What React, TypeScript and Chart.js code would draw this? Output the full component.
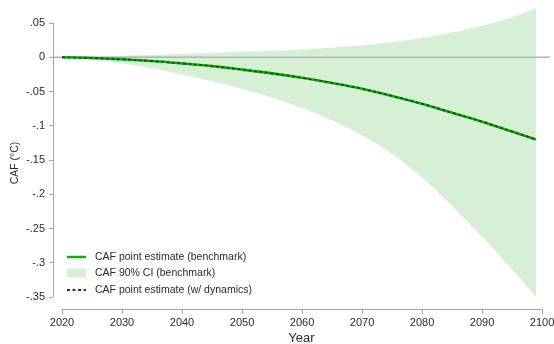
import React, { useEffect, useRef } from "react";
import { Chart, registerables } from "chart.js";

Chart.register(...registerables);

const YEARS = [2020, 2025, 2030, 2035, 2040, 2045, 2050, 2055, 2060, 2065, 2070, 2075, 2080, 2085, 2090, 2095, 2099];
const CAF_BENCHMARK = [0, -0.001, -0.003, -0.0055, -0.009, -0.013, -0.018, -0.0235, -0.03, -0.0375, -0.046, -0.0565, -0.068, -0.081, -0.094, -0.1085, -0.12];
const CAF_DYNAMICS = [0, -0.001, -0.003, -0.0055, -0.009, -0.013, -0.018, -0.0235, -0.03, -0.0375, -0.046, -0.0565, -0.068, -0.081, -0.094, -0.1085, -0.12];
const CI_LOWER = [0, -0.004, -0.009, -0.016, -0.025, -0.035, -0.046, -0.059, -0.074, -0.092, -0.114, -0.141, -0.176, -0.217, -0.262, -0.31, -0.35];
const CI_UPPER = [0, 0.001, 0.002, 0.0035, 0.005, 0.0065, 0.008, 0.0095, 0.0115, 0.014, 0.0175, 0.022, 0.028, 0.036, 0.046, 0.058, 0.072];
const X_TICKS = [2020, 2030, 2040, 2050, 2060, 2070, 2080, 2090, 2100];
const Y_TICKS = [0.05, 0, -0.05, -0.1, -0.15, -0.2, -0.25, -0.3, -0.35];
const LEGEND_LABELS = ["CAF point estimate (benchmark)", "CAF 90% CI (benchmark)", "CAF point estimate (w/ dynamics)"];
const X_TITLE = "Year";
const Y_TITLE = "CAF (\u00B0C)";

const FONT = "'Liberation Sans', Arial, Helvetica, sans-serif";
const GREEN = "#14a814";
const DARK_GREEN = "#045a04";
const BAND = "#d5f0d5";
const AXIS = "#a6a6a6";
const TEXT = "#2a2a2a";

const toPts = (ys: number[]) => YEARS.map((x, i) => ({ x, y: ys[i] }));

const fmtY = (v: number) => {
  const s = String(Number(v.toFixed(2)));
  return s.replace("0.", ".");
};

const stataPlugin = {
  id: "stata",
  beforeDatasetsDraw(chart: any) {
    const { ctx, chartArea, scales } = chart;
    const y0 = scales.y.getPixelForValue(0);
    ctx.save();
    ctx.strokeStyle = "#b4b4b4";
    ctx.lineWidth = 1.5;
    ctx.beginPath();
    ctx.moveTo(chartArea.left, y0);
    ctx.lineTo(chartArea.right, y0);
    ctx.stroke();
    ctx.restore();
  },
  afterDraw(chart: any) {
    const { ctx, chartArea, scales } = chart;
    ctx.save();
    ctx.strokeStyle = AXIS;
    ctx.lineWidth = 1;
    ctx.beginPath();
    const yt = scales.y.getPixelForValue(Y_TICKS[0]);
    const yb = scales.y.getPixelForValue(Y_TICKS[Y_TICKS.length - 1]);
    ctx.moveTo(chartArea.left + 0.5, yt);
    ctx.lineTo(chartArea.left + 0.5, yb);
    const xl = scales.x.getPixelForValue(X_TICKS[0]);
    const xr = scales.x.getPixelForValue(X_TICKS[X_TICKS.length - 1]);
    ctx.moveTo(xl, chartArea.bottom + 0.5);
    ctx.lineTo(xr, chartArea.bottom + 0.5);
    ctx.stroke();

    ctx.fillStyle = TEXT;
    ctx.font = `13px ${FONT}`;
    ctx.textAlign = "center";
    ctx.textBaseline = "alphabetic";
    ctx.fillText(X_TITLE, (chartArea.left + chartArea.right) / 2, 342);
    ctx.save();
    ctx.translate(18, 163);
    ctx.rotate(-Math.PI / 2);
    ctx.font = `10.5px ${FONT}`;
    ctx.fillText(Y_TITLE, 0, 0);
    ctx.restore();

    const x0 = 67, x1 = 86, tx = 95;
    const rows = [257, 273, 290];
    ctx.font = `10.5px ${FONT}`;
    ctx.textAlign = "left";
    ctx.textBaseline = "middle";
    ctx.strokeStyle = GREEN;
    ctx.lineWidth = 2.5;
    ctx.beginPath();
    ctx.moveTo(x0, rows[0]);
    ctx.lineTo(x1, rows[0]);
    ctx.stroke();
    ctx.fillStyle = BAND;
    ctx.fillRect(x0, rows[1] - 4.5, x1 - x0, 9);
    ctx.strokeStyle = DARK_GREEN;
    ctx.lineWidth = 1.8;
    ctx.setLineDash([3, 2.5]);
    ctx.beginPath();
    ctx.moveTo(x0, rows[2]);
    ctx.lineTo(x1, rows[2]);
    ctx.stroke();
    ctx.setLineDash([]);
    ctx.fillStyle = TEXT;
    LEGEND_LABELS.forEach((l, i) => ctx.fillText(l, tx, rows[i] + 0.5));
    ctx.restore();
  },
};

export default function App() {
  const ref = useRef<HTMLCanvasElement | null>(null);
  useEffect(() => {
    if (!ref.current) return;
    const chart = new Chart(ref.current, {
      type: "line",
      data: {
        datasets: [
          {
            label: "CI lower",
            data: toPts(CI_LOWER),
            borderWidth: 0,
            pointRadius: 0,
            fill: false,
            tension: 0.4,
            order: 4,
          },
          {
            label: LEGEND_LABELS[1],
            data: toPts(CI_UPPER),
            borderWidth: 0,
            pointRadius: 0,
            backgroundColor: BAND,
            fill: "-1",
            tension: 0.4,
            order: 3,
          },
          {
            label: LEGEND_LABELS[0],
            data: toPts(CAF_BENCHMARK),
            borderColor: GREEN,
            borderWidth: 2.6,
            pointRadius: 0,
            fill: false,
            tension: 0.4,
            order: 2,
          },
          {
            label: LEGEND_LABELS[2],
            data: toPts(CAF_DYNAMICS),
            borderColor: DARK_GREEN,
            borderWidth: 1.8,
            borderDash: [3, 2.5],
            pointRadius: 0,
            fill: false,
            tension: 0.4,
            order: 1,
          },
        ] as any,
      },
      options: {
        animation: false,
        responsive: false,
        layout: { padding: { top: 3, right: 4, left: 0, bottom: 0 } },
        plugins: {
          legend: { display: false },
          tooltip: { enabled: false },
          filler: { drawTime: "beforeDatasetsDraw" } as any,
        },
        scales: {
          x: {
            type: "linear",
            min: 2018.5,
            max: 2101.33,
            afterBuildTicks: (s: any) => {
              s.ticks = X_TICKS.map((v) => ({ value: v }));
            },
            afterFit: (s: any) => {
              s.height = 35;
              s.paddingLeft = 0;
              s.paddingRight = 0;
            },
            border: { display: false },
            grid: { drawOnChartArea: false, drawTicks: true, tickLength: 5, color: AXIS, lineWidth: 1 },
            ticks: {
              autoSkip: false,
              maxRotation: 0,
              padding: 2,
              color: TEXT,
              font: { family: FONT, size: 11 },
              callback: (v: any) => String(v),
            },
          },
          y: {
            type: "linear",
            min: -0.3675,
            max: 0.0792,
            afterBuildTicks: (s: any) => {
              s.ticks = Y_TICKS.map((v) => ({ value: v }));
            },
            afterFit: (s: any) => {
              s.width = 53;
              s.paddingTop = 0;
              s.paddingBottom = 0;
            },
            border: { display: false },
            grid: { drawOnChartArea: false, drawTicks: true, tickLength: 4, color: AXIS, lineWidth: 1 },
            ticks: {
              autoSkip: false,
              padding: 4,
              color: TEXT,
              font: { family: FONT, size: 11 },
              callback: (v: any) => fmtY(Number(v)),
            },
          },
        },
      },
      plugins: [stataPlugin],
    });
    return () => chart.destroy();
  }, []);
  return (
    <div style={{ position: "fixed", left: 0, top: 0, width: 554, height: 344, background: "#fff" }}>
      <canvas ref={ref} width={554} height={344} style={{ display: "block" }} />
    </div>
  );
}
